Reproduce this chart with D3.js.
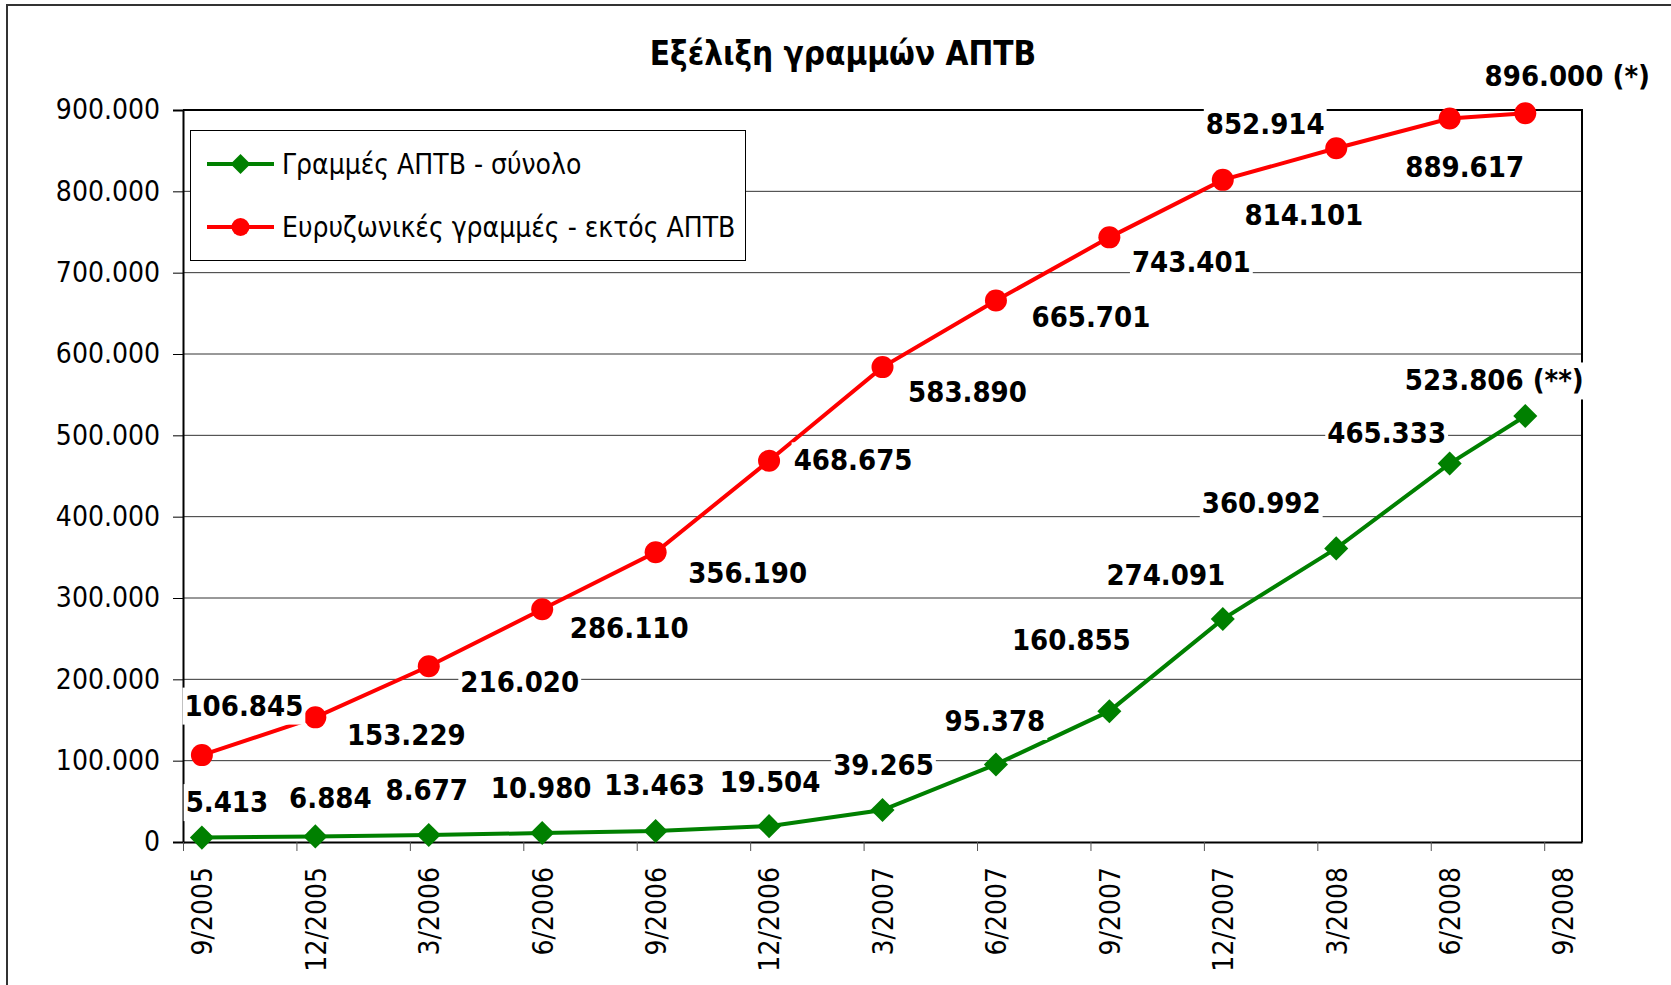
<!DOCTYPE html>
<html>
<head>
<meta charset="utf-8">
<script src="https://cdn.jsdelivr.net/npm/d3@7"></script>
<style>
  html, body { margin: 0; padding: 0; background: #fff; }
  svg { display: block; }
</style>
</head>
<body>
<div id="chart"></div>
<script>
// Tick labels of the quarterly date axis
const periods = ["9/2005", "12/2005", "3/2006", "6/2006", "9/2006", "12/2006", "3/2007",
                 "6/2007", "9/2007", "12/2007", "3/2008", "6/2008", "9/2008"];
// Months since 9/2005 for every data point (last one is 8/2008)
const monthIndex = [0, 3, 6, 9, 12, 15, 18, 21, 24, 27, 30, 33, 35];

const aptbTotal = [5413, 6884, 8677, 10980, 13463, 19504, 39265, 95378, 160855, 274091, 360992, 465333, 523806];
const broadbandOther = [106845, 153229, 216020, 286110, 356190, 468675, 583890, 665701, 743401, 814101, 852914, 889617, 896000];

const aptbNotes = ["", "", "", "", "", "", "", "", "", "", "", "", " (**)"];
const broadbandNotes = ["", "", "", "", "", "", "", "", "", "", "", "", " (*)"];

const seriesNames = ["Γραμμές ΑΠΤΒ - σύνολο", "Ευρυζωνικές γραμμές - εκτός ΑΠΤΒ"];
const chartTitle = "Εξέλιξη γραμμών ΑΠΤΒ";

// where each data label was dragged to, relative to its point
const aptbLabelOffsets = [[25, -36], [15, -39], [-2, -45], [-1, -46], [-1, -47], [1, -45], [1, -46],
                          [-1, -44], [-38, -72], [-57, -45], [-75, -46], [-63, -31], [-31, -36]];
const broadbandLabelOffsets = [[42, -50], [91, 17], [91, 15], [87, 18], [92, 20], [84, -1], [85, 24],
                               [95, 16], [82, 24], [81, 35], [-71, -25], [15, 48], [42, -38]];

const width = 1671;
const height = 985;
const plot = { left: 183, right: 1582, top: 110, bottom: 842 };
const FONT = '"DejaVu Sans Condensed", "DejaVu Sans", sans-serif';

const locale = d3.formatLocale({ decimal: ",", thousands: ".", grouping: [3], currency: ["", "€"] });
const fmt = locale.format(",d");

const svg = d3.select("#chart").append("svg")
    .attr("width", width)
    .attr("height", height)
    .style("font-family", FONT)
    .style("font-stretch", "condensed");

svg.append("rect").attr("width", width).attr("height", height).attr("fill", "#fff");

// outer chart frame (right and bottom edges run off the picture)
svg.append("rect")
    .attr("x", 7).attr("y", 5)
    .attr("width", 1700).attr("height", 1000)
    .attr("fill", "none")
    .attr("stroke", "#333")
    .attr("stroke-width", 2);

const xScale = d3.scaleLinear().domain([0, 37]).range([plot.left, plot.right]);
const yScale = d3.scaleLinear().domain([0, 900000]).range([plot.bottom, plot.top]);

// gridlines
svg.append("g")
    .selectAll("line")
    .data(d3.range(100000, 900001, 100000))
    .enter().append("line")
    .attr("x1", plot.left).attr("x2", plot.right)
    .attr("y1", d => yScale(d)).attr("y2", d => yScale(d))
    .attr("stroke", "#333")
    .attr("stroke-width", 1);

// plot border top / right
svg.append("path")
    .attr("d", `M${plot.left},${plot.top}H${plot.right}V${plot.bottom}`)
    .attr("fill", "none")
    .attr("stroke", "#000")
    .attr("stroke-width", 2);

// y axis
const yAxis = svg.append("g")
    .attr("transform", `translate(${plot.left},0)`)
    .call(d3.axisLeft(yScale).tickValues(d3.range(0, 900001, 100000)).tickFormat(fmt).tickSize(10).tickPadding(13));
yAxis.select(".domain").attr("stroke", "#000").attr("stroke-width", 2);
yAxis.selectAll(".tick line").attr("stroke", "#000");
yAxis.selectAll("text")
    .attr("font-family", FONT)
    .attr("font-size", 28)
    .attr("fill", "#000");

// x axis: ticks on quarter boundaries
const xAxis = svg.append("g")
    .attr("transform", `translate(0,${plot.bottom})`)
    .call(d3.axisBottom(xScale).tickValues(d3.range(0, 37, 3)).tickFormat("").tickSize(9).tickSizeOuter(0));
xAxis.select(".domain").attr("stroke", "#000").attr("stroke-width", 2);
xAxis.selectAll(".tick line").attr("stroke", "#555");

// x labels centred on each quarter's month
const xLabels = svg.append("g")
    .attr("transform", `translate(0,${plot.bottom})`)
    .call(d3.axisBottom(xScale)
        .tickValues(d3.range(0, 37, 3).map(d => d + 0.5))
        .tickFormat((d, i) => periods[i])
        .tickSize(0));
xLabels.select(".domain").remove();
xLabels.selectAll("text")
    .attr("font-family", FONT)
    .attr("font-size", 28)
    .attr("fill", "#000")
    .attr("text-anchor", "end")
    .attr("dy", "0.35em")
    .attr("y", 0)
    .attr("transform", "translate(0,25) rotate(-90)");

const line = d3.line()
    .x(d => xScale(d.m + 0.5))
    .y(d => yScale(d.v));

const aptbData = monthIndex.map((m, i) => ({ m: m, v: aptbTotal[i] }));
const broadbandData = monthIndex.map((m, i) => ({ m: m, v: broadbandOther[i] }));

// square turned 45 degrees, like the Excel diamond marker
const diamond = d3.symbol().type(d3.symbolSquare).size(290);

// red series
svg.append("path")
    .datum(broadbandData)
    .attr("d", line)
    .attr("fill", "none")
    .attr("stroke", "#ff0000")
    .attr("stroke-width", 4);
svg.append("g").selectAll("circle")
    .data(broadbandData)
    .enter().append("circle")
    .attr("cx", d => xScale(d.m + 0.5))
    .attr("cy", d => yScale(d.v))
    .attr("r", 11)
    .attr("fill", "#ff0000");

// green series
svg.append("path")
    .datum(aptbData)
    .attr("d", line)
    .attr("fill", "none")
    .attr("stroke", "#008000")
    .attr("stroke-width", 4);
svg.append("g").selectAll("path")
    .data(aptbData)
    .enter().append("path")
    .attr("d", diamond)
    .attr("transform", d => `translate(${xScale(d.m + 0.5)},${yScale(d.v)}) rotate(45)`)
    .attr("fill", "#008000");

// legend
const legend = svg.append("g");
legend.append("rect")
    .attr("x", 190.5).attr("y", 130.5)
    .attr("width", 555).attr("height", 130)
    .attr("fill", "#fff")
    .attr("stroke", "#000")
    .attr("stroke-width", 1);
const legendRows = [
    { name: seriesNames[0], color: "#008000", marker: "diamond", y: 164 },
    { name: seriesNames[1], color: "#ff0000", marker: "circle", y: 227 }
];
legendRows.forEach(r => {
    legend.append("line")
        .attr("x1", 207).attr("x2", 274)
        .attr("y1", r.y).attr("y2", r.y)
        .attr("stroke", r.color)
        .attr("stroke-width", 4);
    if (r.marker === "diamond") {
        legend.append("path")
            .attr("d", d3.symbol().type(d3.symbolSquare).size(200))
            .attr("transform", `translate(240.5,${r.y}) rotate(45)`)
            .attr("fill", r.color);
    } else {
        legend.append("circle")
            .attr("cx", 240.5).attr("cy", r.y).attr("r", 9)
            .attr("fill", r.color);
    }
    legend.append("text")
        .attr("x", 282).attr("y", r.y + 10)
        .attr("font-size", 28)
        .attr("fill", "#000")
        .text(r.name);
});

// title
svg.append("text")
    .attr("x", 843).attr("y", 65)
    .attr("text-anchor", "middle")
    .attr("font-size", 33)
    .attr("font-weight", "bold")
    .attr("fill", "#000")
    .text(chartTitle);

// data labels with white boxes
function addLabels(data, notes, offsets) {
    const g = svg.append("g");
    data.forEach((d, i) => {
        const cx = xScale(d.m + 0.5) + offsets[i][0];
        const base = yScale(d.v) + offsets[i][1] + 10.5;
        const box = g.append("rect").attr("fill", "#fff");
        const t = g.append("text")
            .attr("x", cx).attr("y", base)
            .attr("text-anchor", "middle")
            .attr("font-size", 29)
            .attr("font-weight", "bold")
            .attr("fill", "#000")
            .text(fmt(d.v) + notes[i]);
        const w = t.node().getComputedTextLength();
        box.attr("x", cx - w / 2 - 2).attr("y", base - 28)
            .attr("width", w + 4).attr("height", 37);
    });
}
addLabels(broadbandData, broadbandNotes, broadbandLabelOffsets);
addLabels(aptbData, aptbNotes, aptbLabelOffsets);
</script>
</body>
</html>
